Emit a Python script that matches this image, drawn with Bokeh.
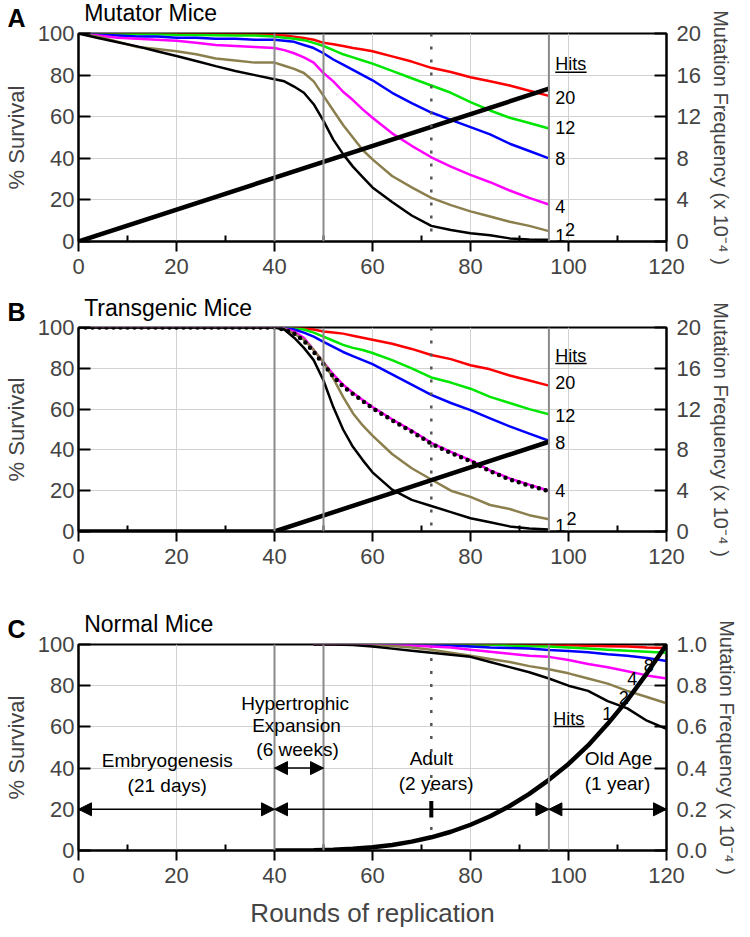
from bokeh.plotting import figure
from bokeh.models import (Range1d, LinearAxis, FixedTicker, Label, Arrow, Title,
                          NormalHead, Span, PrintfTickFormatter)
from bokeh.layouts import column
from bokeh.embed import file_html
from bokeh.resources import INLINE

FONT = "Liberation Sans"

# ---------------- data ----------------
x_ticks = [0, 20, 40, 60, 80, 100, 120]
x_minor = [10, 30, 50, 70, 90, 110]
y_ticks = [0, 20, 40, 60, 80, 100]
mf_ticks_ab = [0, 4, 8, 12, 16, 20]
mf_ticks_c = [0.0, 0.2, 0.4, 0.6, 0.8, 1.0]
phase_lines = [40, 50, 96]
adult_line = 72

# rounds of replication (panels A and B)
x_ab = [0, 4, 8, 12, 16, 20, 24, 28, 32, 36, 40, 42, 44, 46, 48, 50, 52, 54, 56, 58,
        60, 64, 68, 72, 76, 80, 84, 88, 92, 96]

# Panel A: Mutator mice, % survival by number of hits
a_hits1 = [100, 97.8, 95.8, 93.8, 91.5, 89.2, 86.8, 84.3, 82, 80, 78, 77, 74.5, 71.5, 66,
           58, 49, 42, 36, 31, 26, 19, 12.5, 7.5, 5.5, 4, 3, 1.5, 1, 0.8]
a_hits2 = [100, 98.5, 96, 93.5, 92.5, 91.5, 90, 88, 87, 86, 86, 84.5, 83, 81, 77,
           70, 63, 56, 50, 44, 39.5, 31.5, 26, 21, 17.5, 14.5, 12, 9.5, 7.5, 5]
a_hits4 = [100, 99, 98, 97.5, 97, 96.5, 95.5, 94.5, 94, 93.5, 93, 92, 90.5, 88.5, 86,
           81, 77, 72, 68, 63.5, 59.5, 52, 46, 40.5, 36, 32, 28.5, 24.5, 21, 17.8]
a_hits8 = [100, 99.5, 99, 98.5, 98.5, 98, 98, 97.5, 97.5, 97, 97, 96.5, 96, 94.5, 93,
           90.5, 87.5, 85, 82.5, 80, 77.5, 71.5, 66.5, 62, 58.5, 55, 51.5, 47, 43.5, 40]
a_hits12 = [100, 100, 100, 99.8, 99.6, 99.4, 99.3, 99.2, 99, 99, 98.5, 98, 97.5, 96.8, 95.5,
            94, 92, 90, 88.5, 87, 85.5, 82, 78.5, 75, 71.5, 67, 63, 59.5, 57, 54.3]
a_hits20 = [100, 100, 100, 100, 100, 100, 99.8, 99.7, 99.6, 99.5, 99.3, 99, 98.5, 97.8, 97,
            95.5, 94.8, 94, 93, 92.3, 91.5, 89, 86.5, 83.5, 81.5, 79, 77, 75, 72.5, 70]
a_mf_x = [0, 96]
a_mf = [0, 14.7]

# Panel B: Transgenic mice
b_hits1 = [100, 100, 100, 100, 100, 100, 100, 100, 100, 100, 100, 99, 95, 90, 84,
           74, 61, 50, 41.5, 35, 29, 20.5, 15.5, 12.5, 9.5, 6.5, 4.5, 2.5, 1.5, 1]
b_hits2 = [100, 100, 100, 100, 100, 100, 100, 100, 100, 100, 100, 99.5, 97, 94, 89,
           83, 75, 66, 58, 52, 47, 38, 31, 25.5, 20, 17, 13, 11, 8, 6]
b_hits4 = [100, 100, 100, 100, 100, 100, 100, 100, 100, 100, 100, 99.5, 98, 95, 89,
           83, 77, 72, 68, 64.5, 61, 55, 49.5, 43.5, 39, 35, 30, 26, 23, 20]
b_dotted = [100, 100, 100, 100, 100, 100, 100, 100, 100, 100, 100, 99, 97, 93.5, 88,
            82, 76, 71, 67.5, 64, 60.5, 54.5, 49, 43, 38.5, 34.5, 29.5, 25.5, 22.5, 19.8]
b_hits8 = [100, 100, 100, 100, 100, 100, 100, 100, 100, 100, 100, 99.8, 99, 97.5, 95.5,
           93, 90.5, 88, 86, 84, 82, 77, 72, 67, 63, 59.5, 55.5, 51.5, 48, 44.5]
b_hits12 = [100, 100, 100, 100, 100, 100, 100, 100, 100, 100, 100, 100, 99.5, 99, 97.5,
            95.5, 93.5, 91.5, 90, 89, 87.5, 84, 80, 75.5, 73, 70, 66, 63, 60, 57.5]
b_hits20 = [100, 100, 100, 100, 100, 100, 100, 100, 100, 100, 100, 100, 99.8, 99.5, 99,
            98, 97.5, 97, 96, 95, 94, 92, 89.5, 86.5, 84.5, 81.5, 79.5, 76.5, 74, 71.5]
b_mf_x = [0, 40, 96]
b_mf = [0, 0, 8.8]

# Panel C: Normal mice
x_c = [48, 52, 56, 60, 64, 68, 72, 76, 80, 84, 88, 92, 96, 100, 104, 108, 112, 116, 120]
c_hits1 = [100, 100, 99.7, 99, 98, 97, 96, 95, 94, 91.5, 89, 86.5, 83.5, 80, 77.5,
           72.5, 69, 63, 59]
c_hits2 = [100, 100, 100, 99.8, 99.3, 98.5, 97.5, 96, 94.5, 93, 91.5, 89.5, 88, 86, 83.5,
           81, 77.5, 74.5, 71.5]
c_hits4 = [100, 100, 100, 100, 100, 99.5, 99, 98.5, 97.5, 96.5, 95.5, 94.5, 94, 92.5, 90.5,
           89, 87, 85, 83.5]
c_hits8 = [100, 100, 100, 100, 100, 100, 100, 99.5, 99, 98.5, 98.3, 98, 97.3, 96.8, 96.2,
           95.3, 94.5, 93.5, 92]
c_hits12 = [100, 100, 100, 100, 100, 100, 100, 100, 100, 100, 99.5, 99.2, 99, 98.5, 98,
            97.5, 97, 96.5, 96]
c_hits20 = [100, 100, 100, 100, 100, 100, 100, 100, 100, 100, 100, 100, 99.8, 99.6, 99.4,
            99.2, 99, 98.6, 98.3]
c_mf_x = [40, 44, 48, 52, 56, 60, 64, 68, 72, 76, 80, 84, 88, 92, 96, 100, 104, 108, 112,
          116, 120]
c_mf = [0, 0.0002, 0.001, 0.0034, 0.008, 0.016, 0.027, 0.043, 0.064, 0.091, 0.125, 0.166,
        0.216, 0.275, 0.343, 0.42, 0.51, 0.615, 0.73, 0.86, 1.0]

hit_names = ["20", "12", "8", "4", "2", "1"]

# ---------------- styles ----------------
COLORS = {"1": "black", "2": "#8c7f4e", "4": "#ff00ff", "8": "#0000ff",
          "12": "#00e600", "20": "#ff0000"}
GRID = "#d2d2d2"
PHASE = "#8a8a8a"
HEADER_H = 40
FRAME_W = 588
BORDER_L = 73
BORDER_R = 73


def add_label(p, x, y, text, size="19px", align="center", baseline="middle",
              style="normal", xo=0, yo=0):
    p.add_layout(Label(x=x, y=y, text=text, text_font=FONT, text_font_size=size,
                       text_align=align, text_baseline=baseline,
                       text_font_style=style, x_offset=xo, y_offset=yo,
                       text_color="black"))


def header(title, cy):
    h = figure(frame_width=FRAME_W, frame_height=HEADER_H, min_border_left=BORDER_L,
               min_border_right=BORDER_R, min_border_top=0, min_border_bottom=0,
               x_range=Range1d(0, 120), y_range=Range1d(0, HEADER_H),
               x_axis_type=None, y_axis_type=None, output_backend="svg",
               toolbar_location=None, title=None)
    h.outline_line_color = None
    h.grid.visible = False
    add_label(h, 1.15, HEADER_H - cy, title, size="23px", align="left")
    return h


def make_panel(letter, top, bottom, frame_h, mf_max, mf_ticks, fmt, xlabel=None):
    p = figure(frame_width=FRAME_W, frame_height=frame_h, min_border_left=BORDER_L,
               min_border_right=BORDER_R, min_border_top=top, min_border_bottom=bottom,
               x_range=Range1d(0, 120), y_range=Range1d(0, 100),
               output_backend="svg", toolbar_location=None, title=None,
               margin=(-HEADER_H, 0, 0, 0))
    p.add_layout(Title(text=letter, align="left", offset=-71, standoff=3,
                       vertical_align="bottom", text_font=FONT,
                       text_font_size="25px", text_font_style="bold",
                       text_color="black"), "above")
    p.outline_line_color = "black"
    p.outline_line_width = 2
    p.outline_line_alpha = 1
    p.background_fill_color = "white"
    p.border_fill_color = None

    xa = p.xaxis[0]
    xa.ticker = FixedTicker(ticks=x_ticks, minor_ticks=x_minor)
    xa.major_tick_in = 0
    xa.major_tick_out = 10
    xa.minor_tick_in = 6
    xa.minor_tick_out = 0
    xa.axis_line_width = 2
    xa.major_tick_line_width = 2
    xa.minor_tick_line_width = 2
    xa.major_label_text_font = FONT
    xa.major_label_text_font_size = "22px"
    xa.major_label_standoff = 7
    if xlabel:
        xa.axis_label = xlabel
        xa.axis_label_text_font = FONT
        xa.axis_label_text_font_size = "26px"
        xa.axis_label_text_font_style = "normal"
        xa.axis_label_standoff = 12

    ya = p.yaxis[0]
    ya.ticker = FixedTicker(ticks=y_ticks)
    ya.major_tick_in = 12
    ya.major_tick_out = 0
    ya.minor_tick_line_color = None
    ya.axis_line_width = 2
    ya.major_tick_line_width = 2
    ya.major_label_text_font = FONT
    ya.major_label_text_font_size = "22px"
    ya.major_label_standoff = 4
    ya.axis_label = "% Survival"
    ya.axis_label_text_font = FONT
    ya.axis_label_text_font_size = "22px"
    ya.axis_label_text_font_style = "normal"
    ya.axis_label_standoff = 6

    p.extra_y_ranges = {"mf": Range1d(0, mf_max)}
    ra = LinearAxis(y_range_name="mf", ticker=FixedTicker(ticks=mf_ticks))
    if fmt:
        ra.formatter = PrintfTickFormatter(format=fmt)
    ra.major_tick_in = 12
    ra.major_tick_out = 0
    ra.minor_tick_line_color = None
    ra.axis_line_width = 2
    ra.major_tick_line_width = 2
    ra.major_label_text_font = FONT
    ra.major_label_text_font_size = "22px"
    ra.major_label_standoff = 10
    ra.axis_label = "Mutation Frequency (x 10\u207b\u2074 )"
    ra.axis_label_text_font = FONT
    ra.axis_label_text_font_size = "20px"
    ra.axis_label_text_font_style = "normal"
    ra.axis_label_standoff = 6
    p.add_layout(ra, "right")

    p.xgrid.grid_line_color = GRID
    p.xgrid.grid_line_width = 1
    p.ygrid.ticker = FixedTicker(ticks=y_ticks)
    p.ygrid.grid_line_color = GRID
    p.ygrid.grid_line_width = 1

    for xv in phase_lines:
        p.add_layout(Span(location=xv, dimension="height", line_color=PHASE,
                          line_width=2))
    return p


def draw_curves(p, xs, series):
    for name in hit_names:
        p.line(xs, series[name], line_color=COLORS[name], line_width=2.5)


def hits_header(p, x, y):
    add_label(p, x, y, "Hits", size="18px", align="left")
    p.segment(x0=[x], y0=[y - 3.8], x1=[x + 6.4], y1=[y - 3.8],
              line_color="black", line_width=1.5)


# ---------------- Panel A ----------------
hA = header("Mutator Mice", 12)
pA = make_panel("A", 32, 46, 208, 20, mf_ticks_ab, None)
pA.add_layout(Span(location=adult_line, dimension="height", line_color="#555555",
                   line_width=2.5, line_dash="3 10"))
draw_curves(pA, x_ab, {"1": a_hits1, "2": a_hits2, "4": a_hits4, "8": a_hits8,
                       "12": a_hits12, "20": a_hits20})
pA.line(a_mf_x, a_mf, y_range_name="mf", line_color="black", line_width=4.5)
hits_header(pA, 97.3, 85.2)
for t, yv, xv in [("20", 69.3, 97.3), ("12", 54.6, 97.3), ("8", 40, 97.3),
                  ("4", 17, 97.3), ("2", 5.9, 99.3), ("1", 3, 97.3)]:
    add_label(pA, xv, yv, t, size="18px", align="left")

# ---------------- Panel B ----------------
hB = header("Transgenic Mice", 20.7)
pB = make_panel("B", 40, 78, 204, 20, mf_ticks_ab, None)
pB.add_layout(Span(location=adult_line, dimension="height", line_color="#555555",
                   line_width=2.5, line_dash="3 10"))
draw_curves(pB, x_ab, {"1": b_hits1, "2": b_hits2, "4": b_hits4, "8": b_hits8,
                       "12": b_hits12, "20": b_hits20})
pB.line(x_ab, b_dotted, line_color="black", line_width=4.5, line_dash="0 7",
        line_cap="round")
pB.line(b_mf_x, b_mf, y_range_name="mf", line_color="black", line_width=4.5)
hits_header(pB, 97.3, 86.1)
for t, yv, xv in [("20", 73, 97.3), ("12", 56.7, 97.3), ("8", 43.6, 97.3),
                  ("4", 20, 97.3), ("2", 6.5, 99.6), ("1", 3, 97.3)]:
    add_label(pB, xv, yv, t, size="18px", align="left")

# ---------------- Panel C ----------------
hC = header("Normal Mice", 14.3)
pC = make_panel("C", 35, 79, 206, 1.0, mf_ticks_c, "%.1f",
                xlabel="Rounds of replication")
pC.line([adult_line, adult_line], [10, 100], line_color="#555555", line_width=2.5,
        line_dash="3 10")
draw_curves(pC, x_c, {"1": c_hits1, "2": c_hits2, "4": c_hits4, "8": c_hits8,
                      "12": c_hits12, "20": c_hits20})
pC.line(c_mf_x, c_mf, y_range_name="mf", line_color="black", line_width=4.5)
hits_header(pC, 96.9, 64)
for t, xv, yv in [("1", 107.9, 66.5), ("2", 111.3, 74.5), ("4", 113, 83.5),
                  ("8", 116.4, 90)]:
    add_label(pC, xv, yv, t, size="18px")

for txt, xv, yv in [("Embryogenesis", 18.1, 43.7), ("(21 days)", 18.1, 31.6),
                    ("Hypertrophic", 44.2, 71.3), ("Expansion", 44.5, 60.8),
                    ("(6 weeks)", 44.7, 49), ("Adult", 72, 44.6),
                    ("(2 years)", 73, 32.4), ("Old Age", 110.3, 44.6),
                    ("(1 year)", 110, 32.4)]:
    add_label(pC, xv, yv, txt, size="19px")

for x0, x1, yv in [(0, 40, 20), (40, 96, 20), (96, 120, 20), (40, 50, 40)]:
    pC.add_layout(Arrow(x_start=x0, y_start=yv, x_end=x1, y_end=yv,
                        start=NormalHead(size=13, fill_color="black", line_color="black"),
                        end=NormalHead(size=13, fill_color="black", line_color="black"),
                        line_color="black", line_width=1.5))
pC.segment(x0=[adult_line], y0=[16], x1=[adult_line], y1=[24], line_color="black",
           line_width=4)

layout = column(hA, pA, hB, pB, hC, pC, spacing=0)
open("out.html", "w").write(file_html(layout, INLINE))
